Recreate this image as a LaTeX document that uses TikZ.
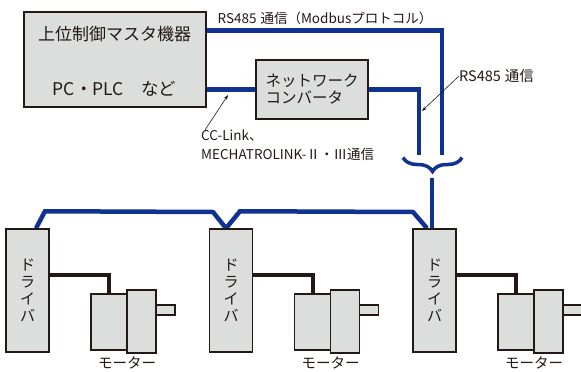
\documentclass[tikz,border=0pt]{standalone}
\usepackage{fontspec}
\setmainfont{Noto Sans CJK JP}
\usetikzlibrary{arrows.meta,positioning,calc,decorations.pathreplacing}
\definecolor{busBlue}{RGB}{16,50,145}
\definecolor{boxGray}{RGB}{220,221,221}
\definecolor{inkDark}{RGB}{35,24,21}
\pgfdeclarelayer{bg}
\pgfsetlayers{bg,main}
\tikzset{
  unit/.style={draw=inkDark,line width=1.5pt,fill=boxGray,inner sep=0pt},
  bus/.style={draw=busBlue,line width=4.5pt},
  cable/.style={draw=inkDark,line width=4pt},
  pointer/.style={draw=inkDark,line width=0.6pt,-{Stealth[length=5pt,width=3.5pt]}},
  lbl/.style={text=inkDark,inner sep=0pt}
}

\begin{document}
\begin{tikzpicture}[x=1pt,y=-1pt]
  \useasboundingbox (0,0) rectangle (581,372);
  % host controller and network converter
  \node[unit,minimum width=182pt,minimum height=95pt] (master) at (115,59.5) {};
  \node[lbl,font=\fontsize{17}{17}\selectfont] (mtitle) at (114.5,34.5) {上位制御マスタ機器};
  \node[lbl,font=\fontsize{17.5}{17.5}\selectfont] (msub) at (114.5,89) {PC・PLC　など};
  \node[unit,minimum width=112pt,minimum height=59pt,align=left,text=inkDark,
        font=\fontsize{15.5}{17}\selectfont] (conv) at (312,89.5) {ネットワーク\\コンバータ};
  % drivers with their motors
  \foreach \i/\dx in {1/0,2/203.5,3/407}{
    \node[unit,minimum width=43pt,minimum height=123pt,align=center,text=inkDark,
          font=\fontsize{15}{17}\selectfont] (drv\i) at (27.5+\dx,290.5) {ド\\ラ\\イ\\バ};
    \node[unit,minimum width=19pt,minimum height=10pt] (sh\i) at (165.5+\dx,310) {};
    \node[unit,minimum width=36pt,minimum height=56pt] (mot\i) at (109+\dx,322) {};
    \node[unit,minimum width=29pt,minimum height=63pt] (fl\i) at (141.5+\dx,321.5) {};
    \node[lbl,font=\fontsize{14.5}{14.5}\selectfont] (ml\i) at (127+\dx,363) {モーター};
  }
  % brace joining the two RS485 lines
  \coordinate (in1) at (442,155);
  \coordinate (in2) at (419,155);
  \coordinate (brL) at (403,157.5);
  \coordinate (brR) at (462,157.5);
  \coordinate (brTip) at (432,178);
  \begin{pgfonlayer}{bg}
    \foreach \i in {1,2,3}
      \draw[cable] ([yshift=15.5pt]drv\i.east) -| (mot\i.north);
    \draw[bus] ([xshift=8.5pt]drv1.north) -- ++(9,-17) -- (213,212)
      -- ([xshift=-5pt]drv2.north) -- ++(14,-17) -- (413,212) -- ([xshift=-7.5pt]drv3.north);
    \draw[bus] (brTip) -- ([xshift=-2.5pt]drv3.north);
    \draw[bus] ([yshift=-19pt]master.north east) -| (in1);
    \draw[bus] (master.east |- conv.west) -- (conv.west);
    \draw[bus] (conv.east) -| (in2);
  \end{pgfonlayer}
  \draw[bus,line width=3.5pt,decorate,decoration={brace,mirror,amplitude=14pt}] (brL) -- (brR);
  % labels and pointers
  \node[lbl,font=\fontsize{13.5}{13.5}\selectfont] (rstop) at (325,18) {RS485\kern4pt 通信（Modbusプロトコル）};
  \node[lbl,font=\fontsize{14.5}{14.5}\selectfont,anchor=west] (rsside) at (459,76) {RS485\kern4pt 通信};
  \coordinate (rstip) at (422,111);
  \draw[pointer] (rsside.west) -- (rstip);
  \node[lbl,font=\fontsize{13.5}{19}\selectfont,align=left,anchor=north west] (cclbl) at (201,130) {CC-Link、\\MECHATROLINK-Ⅱ・Ⅲ通信};
  \coordinate (cctip) at (228,95);
  \draw[pointer] ([xshift=4pt]cclbl.north west) -- (cctip);
\end{tikzpicture}
\end{document}
